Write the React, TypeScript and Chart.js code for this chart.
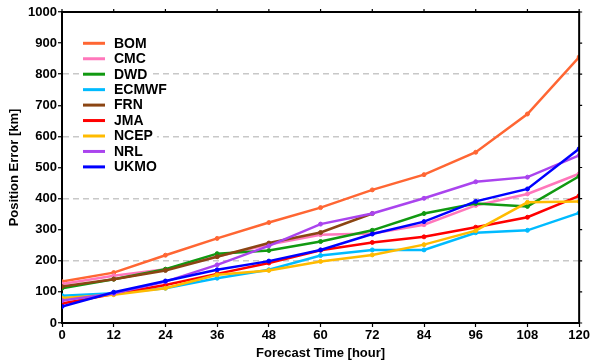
import React, { useEffect, useRef } from 'react';
import { Chart, registerables } from 'chart.js';
Chart.register(...registerables);

const hours = [0, 12, 24, 36, 48, 60, 72, 84, 96, 108, 120];
const modelNames = ['BOM', 'CMC', 'DWD', 'ECMWF', 'FRN', 'JMA', 'NCEP', 'NRL', 'UKMO'];
const modelColors = ['#FF6633', '#FF77BB', '#119911', '#00BBFF', '#8B4513', '#FF0000', '#FFBB00', '#AA44EE', '#0000FF'];
const bom = [133, 162, 218, 272, 323, 371, 428, 477, 549, 672, 855];
const cmc = [125, 152, 173, 214, 252, 284, 288, 316, 378, 415, 480];
const dwd = [112, 141, 173, 223, 233, 262, 298, 352, 384, 375, 472];
const ecmwf = [88, 96, 112, 144, 171, 217, 235, 235, 290, 298, 354];
const frn = [117, 141, 169, 213, 257, 291, 352];
const jma = [63, 93, 122, 158, 193, 234, 259, 277, 308, 340, 409];
const ncep = [80, 91, 112, 155, 169, 198, 219, 252, 297, 388, 391];
const nrl = [72, 95, 133, 187, 248, 318, 352, 401, 454, 469, 539];
const ukmo = [53, 99, 135, 171, 199, 235, 286, 326, 391, 431, 560];
const seriesValues = [bom, cmc, dwd, ecmwf, frn, jma, ncep, nrl, ukmo];
const yMin = 0;
const yMax = 1000;
const yStep = 100;
const gridValues = [200, 400, 600, 800];
const xTitle = 'Forecast Time [hour]';
const yTitle = 'Position Error [km]';

const FONT = '"Liberation Sans", Arial, sans-serif';

const boxPlugin = {
  id: 'boxPlugin',
  afterDraw(chart: any) {
    const { ctx, chartArea } = chart;
    const xs = chart.scales.x;
    const ys = chart.scales.y;
    ctx.save();
    ctx.strokeStyle = '#000';
    ctx.lineWidth = 2;
    ctx.beginPath();
    ctx.moveTo(chartArea.left, chartArea.top);
    ctx.lineTo(chartArea.right, chartArea.top);
    ctx.lineTo(chartArea.right, chartArea.bottom);
    ctx.stroke();
    ctx.lineWidth = 1.2;
    ctx.beginPath();
    hours.forEach((h) => {
      const x = xs.getPixelForValue(h);
      ctx.moveTo(x, chartArea.top);
      ctx.lineTo(x, chartArea.top - 3);
    });
    for (let v = yMin; v <= yMax; v += yStep) {
      const y = ys.getPixelForValue(v);
      ctx.moveTo(chartArea.right, y);
      ctx.lineTo(chartArea.right + 3, y);
    }
    ctx.stroke();
    ctx.restore();
  },
};

const legendPlugin = {
  id: 'insideLegend',
  afterDraw(chart: any) {
    const { ctx } = chart;
    ctx.save();
    ctx.font = `bold 14px ${FONT}`;
    ctx.textBaseline = 'middle';
    ctx.textAlign = 'left';
    const x0 = 83;
    const x1 = 105;
    const tx = 114;
    let y = 43.3;
    chart.data.datasets.forEach((ds: any) => {
      const w = ctx.measureText(ds.label).width;
      ctx.fillStyle = '#fff';
      ctx.fillRect(x0 - 4, y - 7, tx + w + 4 - (x0 - 4), 14);
      ctx.strokeStyle = ds.borderColor;
      ctx.lineWidth = 3;
      ctx.beginPath();
      ctx.moveTo(x0, y);
      ctx.lineTo(x1, y);
      ctx.stroke();
      ctx.fillStyle = '#000';
      ctx.fillText(ds.label, tx, y + 0.5);
      y += 15.45;
    });
    ctx.restore();
  },
};

export default function App() {
  const ref = useRef<HTMLCanvasElement>(null);
  useEffect(() => {
    document.body.style.margin = '0';
    const datasets = modelNames.map((name, i) => ({
      label: name,
      data: seriesValues[i].map((v, j) => ({ x: hours[j], y: v })),
      borderColor: modelColors[i],
      backgroundColor: modelColors[i],
      borderWidth: 2.5,
      pointRadius: 2,
      pointBorderWidth: 1,
      pointHoverRadius: 2,
      tension: 0,
      order: modelNames.length - i,
    }));
    const chart = new Chart(ref.current as HTMLCanvasElement, {
      type: 'line',
      data: { datasets },
      plugins: [boxPlugin, legendPlugin],
      options: {
        animation: false,
        responsive: false,
        devicePixelRatio: 1,
        layout: { padding: { top: 12, right: 10, left: 0, bottom: 0 } },
        plugins: { legend: { display: false }, tooltip: { enabled: false } },
        scales: {
          x: {
            type: 'linear',
            min: 0,
            max: 120,
            afterFit: (s: any) => { s.height = 38; },
            afterBuildTicks: (s: any) => { s.ticks = hours.map((h) => ({ value: h })); },
            ticks: {
              color: '#000',
              font: { family: FONT, size: 13, weight: 'bold' },
              padding: 1,
              maxRotation: 0,
              autoSkip: false,
              callback: (v: any) => String(v),
            },
            grid: { drawOnChartArea: false, tickLength: 4, tickWidth: 1.2, tickColor: '#000' },
            border: { color: '#000', width: 2 },
            title: {
              display: true,
              text: xTitle,
              color: '#000',
              font: { family: FONT, size: 13, weight: 'bold' },
              padding: { top: 0, bottom: 0 },
            },
          },
          y: {
            type: 'linear',
            min: yMin,
            max: yMax,
            afterFit: (s: any) => { s.width = 62; },
            ticks: {
              stepSize: yStep,
              color: '#000',
              font: { family: FONT, size: 13, weight: 'bold' },
              padding: 1,
              callback: (v: any) => String(v),
            },
            grid: {
              color: (c: any) => (gridValues.includes(c.tick?.value) ? '#c8c8c8' : 'rgba(0,0,0,0)'),
              lineWidth: 1.5,
              tickLength: 4,
              tickWidth: 1.2,
              tickColor: '#000',
            },
            border: { color: '#000', width: 2, dash: [6, 4] },
            title: {
              display: true,
              text: yTitle,
              color: '#000',
              font: { family: FONT, size: 13, weight: 'bold' },
              padding: { top: 7, bottom: 0 },
            },
          },
        },
      },
    } as any);
    return () => chart.destroy();
  }, []);
  return (
    <div style={{ position: 'absolute', left: 0, top: 0, width: 591, height: 361 }}>
      <canvas ref={ref} width={591} height={361} style={{ width: 591, height: 361 }} />
    </div>
  );
}
